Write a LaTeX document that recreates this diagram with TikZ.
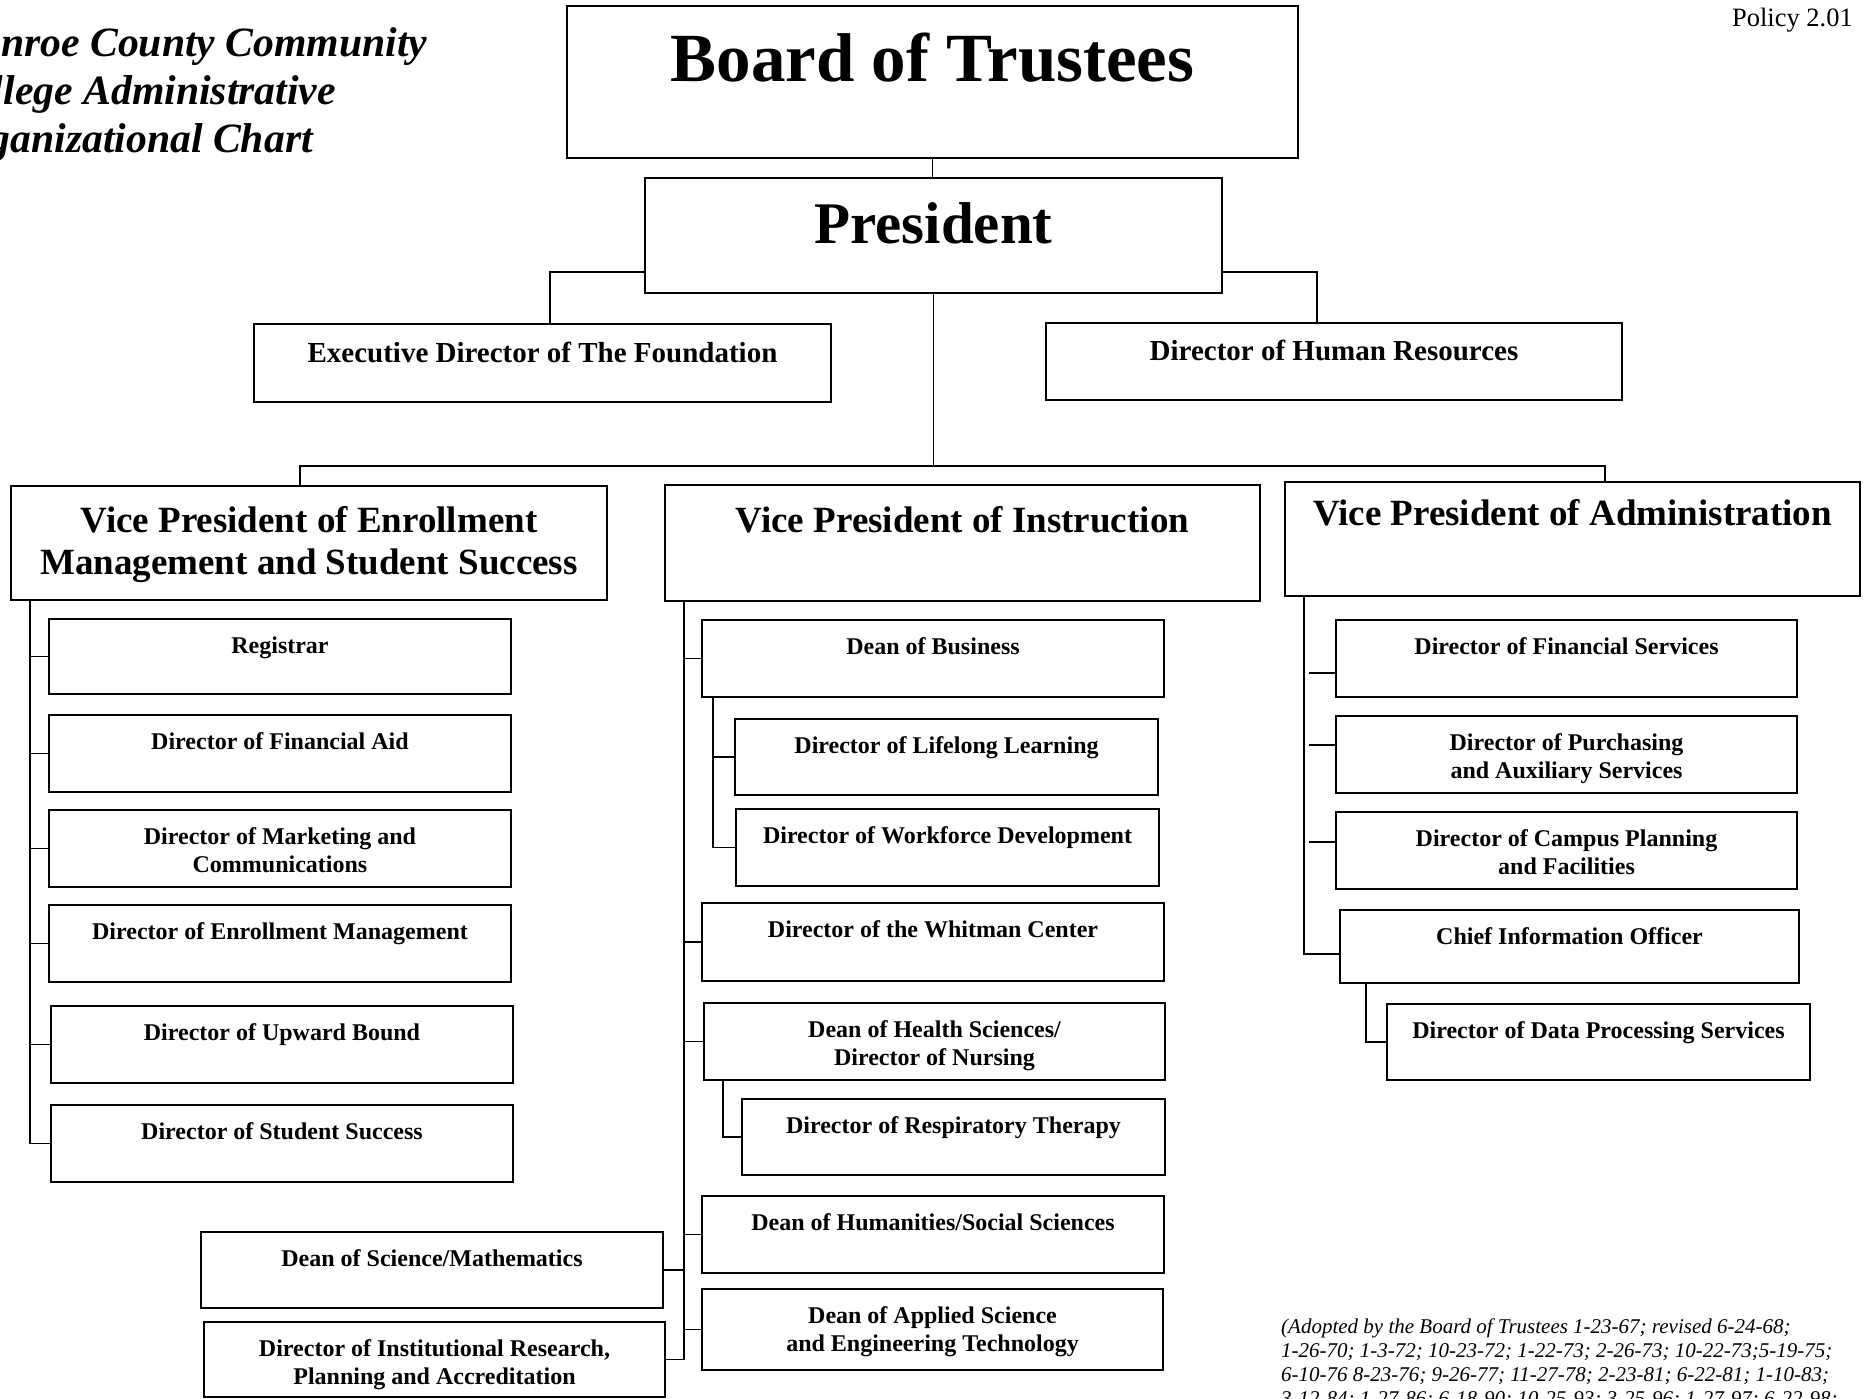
\documentclass[tikz,border=0pt]{standalone}
\usepackage{fontspec}
\setmainfont{Liberation Serif}
\newcommand\mybox[5]{\node[obox, anchor=north west, minimum width={(#4-#2)*1pt}, minimum height={(#5-#3)*1pt}] (#1) at (#2,#3) {};}
\newcommand\cbox[6]{\mybox{#1}{#2}{#3}{#4}{#5}\node[ctext] (#1t) at ([yshift=-17.5pt]#1.north) {#6};}
\begin{document}
\begin{tikzpicture}[x=1pt,y=-1pt,
  obox/.style={draw, line width=2.2pt, inner sep=0pt, outer sep=0pt},
  conn/.style={line width=1.8pt},
  ctext/.style={anchor=north, inner sep=0pt, align=center, font=\bfseries\fontsize{24}{28}\selectfont},
  vptext/.style={anchor=north, inner sep=0pt, align=center, font=\bfseries\fontsize{37}{42}\selectfont}]
\fill[white] (0,0) rectangle (1865,1398);
\useasboundingbox (0,0) rectangle (1865,1398);

% title and side texts
\node[anchor=north west, inner sep=0pt, align=left, font=\bfseries\itshape\fontsize{41.7}{48}\selectfont] (title) at (-57,27) {Monroe County Community\\College Administrative\\Organizational Chart};
\node[anchor=base east, inner sep=0pt, font=\fontsize{26.5}{30}\selectfont] (policy) at (1853,26) {Policy 2.01};
\node[anchor=north west, inner sep=0pt, align=left, font=\itshape\fontsize{21}{24}\selectfont] (note) at (1281,1318.5) {(Adopted by the Board of Trustees 1-23-67; revised 6-24-68;\\1-26-70; 1-3-72; 10-23-72; 1-22-73; 2-26-73; 10-22-73;5-19-75;\\6-10-76 8-23-76; 9-26-77; 11-27-78; 2-23-81; 6-22-81; 1-10-83;\\3-12-84; 1-27-86; 6-18-90; 10-25-93; 3-25-96; 1-27-97; 6-22-98;};

% top boxes
\mybox{bot}{567}{6}{1298}{158}
\node[anchor=north, inner sep=0pt, font=\bfseries\fontsize{69}{78}\selectfont] (bott) at ([yshift=-27pt]bot.north) {Board of Trustees};
\mybox{pres}{645}{178}{1222}{293}
\node[anchor=north, inner sep=0pt, font=\bfseries\fontsize{59}{68}\selectfont] (prest) at ([yshift=-24pt]pres.north) {President};
\mybox{found}{254}{324}{831}{402}
\node[anchor=north, inner sep=0pt, font=\bfseries\fontsize{29}{33}\selectfont] (foundt) at ([yshift=-18pt]found.north) {Executive Director of The Foundation};
\mybox{hr}{1046}{323}{1622}{400}
\node[anchor=north, inner sep=0pt, font=\bfseries\fontsize{29}{33}\selectfont] (hrt) at ([yshift=-17pt]hr.north) {Director of Human Resources};

% vice presidents
\mybox{vp1}{11}{486}{607}{600}
\node[vptext] (vp1t) at ([yshift=-20.5pt]vp1.north) {Vice President of Enrollment\\Management and Student Success};
\mybox{vp2}{665}{485}{1260}{601}
\node[vptext] (vp2t) at ([yshift=-21.5pt]vp2.north) {Vice President of Instruction};
\mybox{vp3}{1285}{482}{1860}{596}
\node[vptext] (vp3t) at ([yshift=-17.5pt]vp3.north) {Vice President of Administration};

% left column
\cbox{reg}{49}{619}{511}{694}{Registrar}
\cbox{fa}{49}{715}{511}{792}{Director of Financial Aid}
\cbox{mc}{49}{810}{511}{887}{Director of Marketing and\\Communications}
\cbox{em}{49}{905}{511}{982}{Director of Enrollment Management}
\cbox{ub}{51}{1006}{513}{1083}{Director of Upward Bound}
\cbox{ss}{51}{1105}{513}{1182}{Director of Student Success}

% middle column
\cbox{dob}{702}{620}{1164}{697}{Dean of Business}
\cbox{dll}{735}{719}{1158}{795}{Director of Lifelong Learning}
\cbox{dwd}{736}{809}{1159}{886}{Director of Workforce Development}
\cbox{wc}{702}{903}{1164}{981}{Director of the Whitman Center}
\cbox{hs}{704}{1003}{1165}{1080}{Dean of Health Sciences/\\Director of Nursing}
\cbox{rt}{742}{1099}{1165}{1175}{Director of Respiratory Therapy}
\cbox{hum}{702}{1196}{1164}{1273}{Dean of Humanities/Social Sciences}
\cbox{aset}{702}{1289}{1163}{1370}{Dean of Applied Science\\and Engineering Technology}
\cbox{sm}{201}{1232}{663}{1308}{Dean of Science/Mathematics}
\cbox{ir}{204}{1322}{665}{1397}{Director of Institutional Research,\\Planning and Accreditation}

% right column
\cbox{fs}{1336}{620}{1797}{697}{Director of Financial Services}
\cbox{pur}{1336}{716}{1797}{793}{Director of Purchasing\\and Auxiliary Services}
\cbox{cpf}{1336}{812}{1797}{889}{Director of Campus Planning\\and Facilities}
\cbox{cio}{1340}{910}{1799}{983}{Chief Information Officer}
\cbox{dp}{1387}{1004}{1810}{1080}{Director of Data Processing Services}

% connector coordinates
\coordinate (pl) at (550,272);
\coordinate (pr) at (1317,272);
\coordinate (barL) at (300,466);
\coordinate (barR) at (1605,466);
\coordinate (lv) at (30,0);
\coordinate (mv) at (684,0);
\coordinate (rv) at (1304,0);
\coordinate (sv1) at (713,0);
\coordinate (sv2) at (723,0);
\coordinate (sv3) at (1366,0);
\coordinate (cioT) at (1304,954);
\coordinate (t1) at (1309,673);
\coordinate (t2) at (1309,745);
\coordinate (t3) at (1309,842);

% top connectors
\draw[conn] (bot.south) -- (bot.south |- pres.north);
\draw[conn] (pres.west |- pl) -- (pl) -- (pl |- found.north);
\draw[conn] (pres.east |- pr) -- (pr) -- (pr |- hr.north);
\draw[conn] (pres.south) -- (pres.south |- barL);
\draw[conn] (barL |- vp1.north) -- (barL) -- (barR) -- (barR |- vp3.north);

% left column connectors
\draw[conn] (lv |- vp1.south) -- (lv |- ss.west);
\foreach \n in {reg,fa,mc,em,ub,ss} {\draw[conn] (lv |- \n.west) -- (\n.west);}

% middle column connectors
\draw[conn] (mv |- vp2.south) -- (mv |- ir.east);
\foreach \n in {dob,wc,hs,hum,aset} {\draw[conn] (mv |- \n.west) -- (\n.west);}
\foreach \n in {sm,ir} {\draw[conn] (\n.east) -- (mv |- \n.east);}
\draw[conn] (sv1 |- dob.south) -- (sv1 |- dwd.west) -- (dwd.west);
\draw[conn] (sv1 |- dll.west) -- (dll.west);
\draw[conn] (sv2 |- hs.south) -- (sv2 |- rt.west) -- (rt.west);

% right column connectors
\draw[conn] (rv |- vp3.south) -- (cioT) -- (cioT -| cio.west);
\draw[conn] (t1) -- (t1 -| fs.west);
\draw[conn] (t2) -- (t2 -| pur.west);
\draw[conn] (t3) -- (t3 -| cpf.west);
\draw[conn] (sv3 |- cio.south) -- (sv3 |- dp.west) -- (dp.west);
\end{tikzpicture}
\end{document}
